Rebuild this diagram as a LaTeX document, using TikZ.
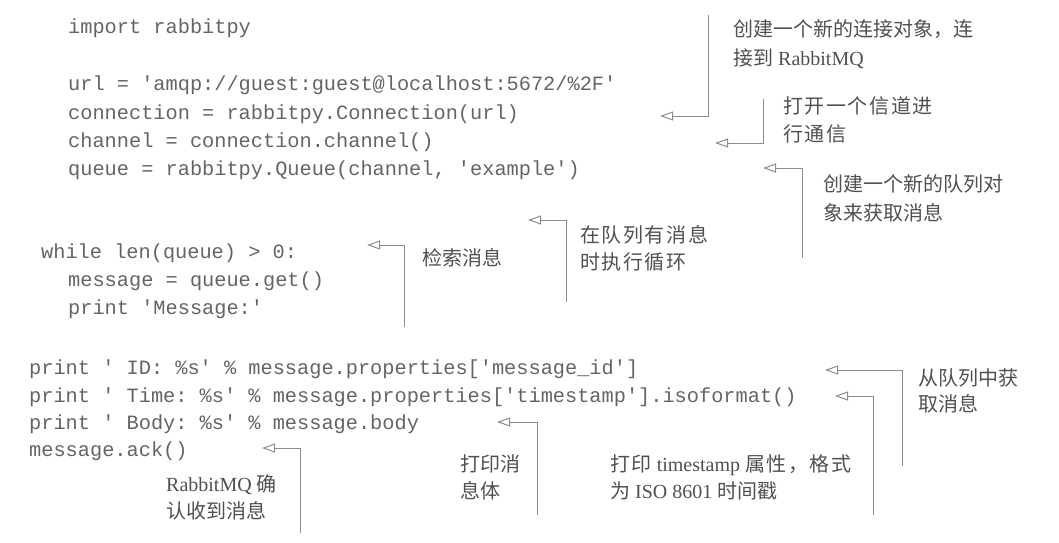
\documentclass[tikz,border=0pt]{standalone}
\usepackage{fontspec}
\setmainfont{Liberation Serif}
\setmonofont{Liberation Mono}
\newfontfamily\cjk{Noto Sans CJK SC}
\newfontfamily\cjkw{Noto Sans CJK SC}[LetterSpace=8]
\usetikzlibrary{arrows.meta}
\definecolor{codegray}{HTML}{646464}
\definecolor{notegray}{HTML}{505050}
\definecolor{linegray}{HTML}{8C8C8C}
\tikzset{
  codeline/.style={anchor=base west, inner sep=0pt, text=codegray, font=\ttfamily\fontsize{20.3}{24}\selectfont},
  noteline/.style={anchor=base west, inner sep=0pt, text=notegray, font=\fontsize{20}{24}\selectfont},
  conn/.style={draw=linegray, line width=1pt, -{Triangle[open, length=13pt, width=9pt]}}
}
\begin{document}
\begin{tikzpicture}[x=1pt, y=-1pt]
\useasboundingbox (0,0) rectangle (1059,542);
% code
\node[codeline] (k1) at (68,33) {import rabbitpy};
\node[codeline] (k2) at (68,90) {url = 'amqp://guest:guest@localhost:5672/\%2F'};
\node[codeline] (k3) at (68,119) {connection = rabbitpy.Connection(url)};
\node[codeline] (k4) at (68,147) {channel = connection.channel()};
\node[codeline] (k5) at (68,175) {queue = rabbitpy.Queue(channel, 'example')};
\node[codeline] (k6) at (41,258) {while len(queue) > 0:};
\node[codeline] (k7) at (68,286) {message = queue.get()};
\node[codeline] (k8) at (68,314) {print 'Message:'};
\node[codeline] (k9) at (29,374) {print ' ID: \%s' \% message.properties['message\_id']};
\node[codeline] (k10) at (29,402) {print ' Time: \%s' \% message.properties['timestamp'].isoformat()};
\node[codeline] (k11) at (29,429) {print ' Body: \%s' \% message.body};
\node[codeline] (k12) at (29,456) {message.ack()};
% notes
\node[noteline] (n1a) at (733,36) {\cjk 创建一个新的连接对象，连};
\node[noteline] (n1b) at (733,65) {{\cjk 接到} RabbitMQ};
\node[noteline] (n2a) at (783,113) {\cjkw 打开一个信道进};
\node[noteline] (n2b) at (783,141) {\cjkw 行通信};
\node[noteline] (n3a) at (823,191) {\cjk 创建一个新的队列对};
\node[noteline] (n3b) at (823,220) {\cjk 象来获取消息};
\node[noteline] (n4) at (422,265) {\cjk 检索消息};
\node[noteline] (n5a) at (580,242) {\cjkw 在队列有消息};
\node[noteline] (n5b) at (580,269) {\cjkw 时执行循环};
\node[noteline] (n6a) at (918,385) {\cjk 从队列中获};
\node[noteline] (n6b) at (918,411) {\cjk 取消息};
\node[noteline] (n7a) at (610,471) {{\cjkw 打印} timestamp {\cjkw 属性，格式}};
\node[noteline] (n7b) at (610,498) {{\cjk 为} ISO 8601 {\cjk 时间戳}};
\node[noteline] (n8a) at (460,471) {\cjk 打印消};
\node[noteline] (n8b) at (460,498) {\cjk 息体};
\node[noteline] (n9a) at (166,491) {RabbitMQ {\cjk 确}};
\node[noteline] (n9b) at (166,518) {\cjk 认收到消息};
% connector ends
\coordinate (s1) at (708,15);  \coordinate (t1) at (660,116);
\coordinate (s2) at (763,99);  \coordinate (t2) at (715,143);
\coordinate (s3) at (802,258); \coordinate (t3) at (763,168);
\coordinate (s4) at (404,327); \coordinate (t4) at (367,245);
\coordinate (s5) at (566,302); \coordinate (t5) at (528,220);
\coordinate (s6) at (902,466); \coordinate (t6) at (825,370);
\coordinate (s7) at (873,515); \coordinate (t7) at (835,396);
\coordinate (s8) at (537,515); \coordinate (t8) at (497,422);
\coordinate (s9) at (300,533); \coordinate (t9) at (262,448);
\foreach \i in {1,...,9} { \draw[conn] (s\i) |- (t\i); }
\end{tikzpicture}
\end{document}
